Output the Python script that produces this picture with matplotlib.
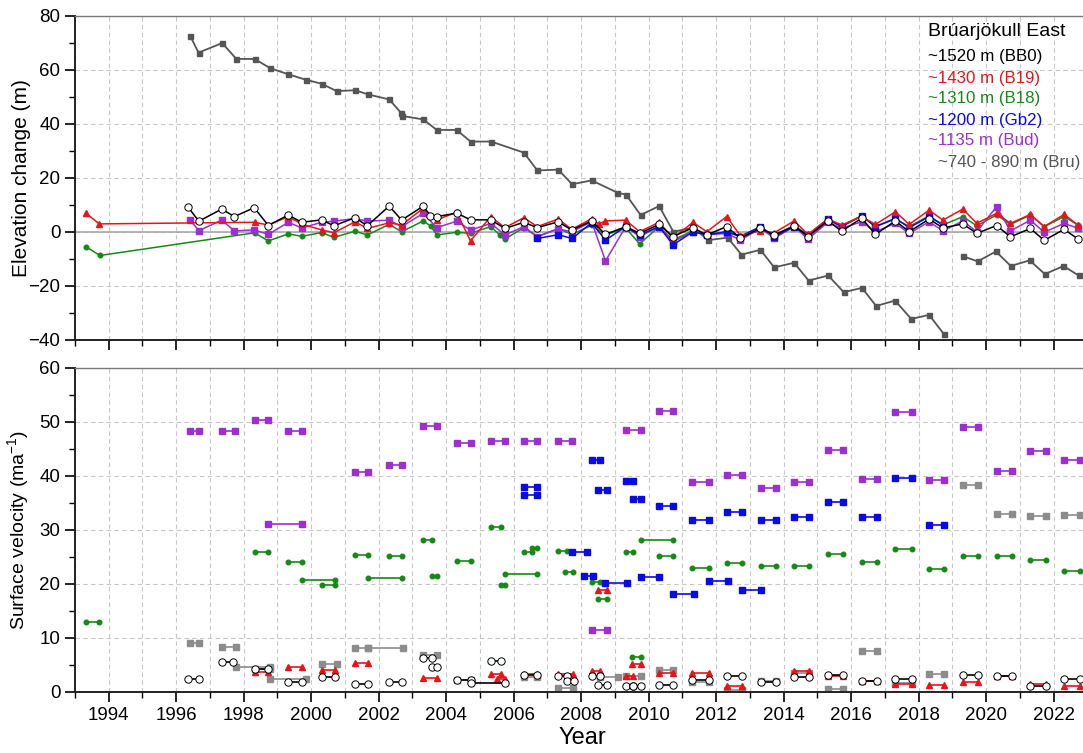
import numpy as np
import matplotlib
matplotlib.use("Agg")
import matplotlib.pyplot as plt
from matplotlib.ticker import MultipleLocator

plt.rcParams['font.family'] = ['Liberation Sans', 'DejaVu Sans']
plt.rcParams['mathtext.default'] = 'regular'

nan = np.nan

# ---------------- top panel: elevation change (m) ----------------
bb0_t = [1996.34, 1996.67, 1997.35, 1997.72, 1998.31, 1998.73, 1999.32, 1999.72, 2000.31, 2000.67,
         2001.30, 2001.66, 2002.31, 2002.68, 2003.32, 2003.53, 2003.72, 2004.31, 2004.72, 2005.32,
         2005.74, 2006.30, 2006.70, 2007.32, 2007.72, 2008.31, 2008.72, 2009.32, 2009.73, 2010.31,
         2010.72, 2011.31, 2011.72, 2012.31, 2012.72, 2013.31, 2013.72, 2014.31, 2014.72, 2015.31,
         2015.72, 2016.31, 2016.72, 2017.31, 2017.72, 2018.31, 2018.72, 2019.31, 2019.72, 2020.31,
         2020.72, 2021.31, 2021.72, 2022.31, 2022.72]
bb0_v = [9.4, 4.0, 8.5, 5.7, 9.0, 2.4, 6.3, 3.6, 4.5, 2.3,
         5.3, 2.3, 9.6, 4.4, 9.6, 6.0, 5.7, 7.0, 4.5, 4.5,
         1.3, 3.6, 1.6, 3.8, 0.7, 4.1, -0.9, 2.0, -0.5, 2.8,
         -1.7, 1.6, -1.1, 2.0, -2.3, 1.4, -1.1, 2.3, -1.7, 4.1,
         0.3, 5.1, -0.9, 4.1, 0.1, 4.8, 1.5, 3.0, -0.5, 2.4,
         -1.8, 1.3, -3.1, 1.0, -2.6]

b19_t = [1993.33, 1993.72, 1998.32, 1998.72, 1999.32, 1999.72, 2000.31, 2000.67, 2001.30, 2001.66,
         2002.31, 2002.68, 2003.32, 2003.72, 2004.31, 2004.72, 2005.32, 2005.74, 2006.30, 2006.70,
         2007.32, 2007.72, 2008.31, 2008.52, 2008.72, 2009.32, 2009.73, 2010.31, 2010.72, 2011.31,
         2011.72, 2012.31, 2012.72, 2013.31, 2013.72, 2014.31, 2014.72, 2015.31, 2015.72, 2016.31,
         2016.72, 2017.31, 2017.72, 2018.31, 2018.72, 2019.31, 2019.72, 2020.31, 2020.72, 2021.31,
         2021.72, 2022.31, 2022.72]
b19_v = [6.9, 3.0, 3.6, 2.6, 5.7, 2.9, 0.8, -0.3, 3.8, 1.3,
         3.4, 2.6, 8.8, 4.5, 7.3, -3.3, 5.7, 1.6, 5.3, 2.0,
         4.8, 1.0, 4.9, 3.0, 4.1, 4.4, 0.1, 3.6, -2.3, 3.6,
         0.1, 5.7, -1.4, 0.5, -0.3, 4.1, -0.9, 4.9, 2.6, 5.7,
         2.8, 7.5, 2.8, 8.1, 4.4, 8.5, 3.2, 6.9, 3.2, 6.5,
         2.0, 6.5, 2.6]

b18_t = [1993.33, 1993.74, 1998.32, 1998.73, 1999.32, 1999.72, 2000.31, 2000.67, 2001.30, 2001.66,
         2002.31, 2002.68, 2003.32, 2003.54, 2003.72, 2004.31, 2004.72, 2005.32, 2005.59, 2005.74,
         2006.30, 2006.70, 2007.32, 2007.72, 2008.31, 2008.72, 2009.32, 2009.73, 2010.31, 2010.72,
         2011.31, 2011.72, 2012.31, 2012.72, 2013.31, 2013.72, 2014.31, 2014.72, 2015.31, 2015.72,
         2016.31, 2016.72, 2017.31, 2017.72, 2018.31, 2018.72, 2019.31, 2019.72, 2020.31, 2020.72,
         2021.31, 2021.72, 2022.31, 2022.72]
b18_v = [-5.5, -8.7, -0.3, -3.3, -0.7, -1.6, -0.2, -2.0, 0.3, -1.1,
         2.8, 0.1, 4.1, 2.2, -1.1, -0.1, -0.5, 2.0, -1.1, -2.6,
         1.6, -1.7, 1.3, -0.9, 2.5, -1.1, 1.5, -4.4, 2.0, -3.0,
         0.5, -0.8, 0.0, -1.5, 1.8, -1.5, 2.3, -1.0, 4.3, 2.3,
         6.0, 2.0, 4.8, 2.0, 6.0, 2.6, 5.7, 2.3, 6.3, 2.8,
         6.3, 2.0, 5.7, 2.6]

gb2_t = [2006.70, 2007.32, 2007.73, 2008.31, 2008.72, 2009.32, 2009.73, 2010.31, 2010.72, 2011.31,
         2011.72, 2012.31, 2012.72, 2013.31, 2013.72, 2014.31, 2014.72, 2015.31, 2015.72, 2016.31,
         2016.72, 2017.31, 2017.72, 2018.31, 2018.72]
gb2_v = [-2.4, -1.0, -2.4, 3.4, -3.0, 2.0, -1.1, 2.0, -4.8, 0.1,
         -1.1, 0.1, -1.7, 2.0, -1.7, 2.0, -1.1, 4.7, 2.0, 6.0,
         2.0, 5.1, 1.6, 5.7, 2.6]

bud_t = [1996.41, 1996.67, 1997.35, 1997.72, 1998.31, 1998.73, 1999.32, 1999.72, 2000.31, 2000.67,
         2001.30, 2001.66, 2002.31, 2002.68, 2003.32, 2003.72, 2004.31, 2004.72, 2005.32, 2005.74,
         2006.30, 2006.70, 2007.32, 2007.72, 2008.31, 2008.72, 2009.32, 2009.73, 2010.31, 2010.72,
         2011.31, 2011.72, 2012.31, 2012.72, 2013.31, 2013.72, 2014.31, 2014.72, 2015.31, 2015.72,
         2016.31, 2016.72, 2017.31, 2017.72, 2018.31, 2018.72, 2019.31, 2019.72, 2020.31, 2020.72,
         2021.31, 2021.72, 2022.31, 2022.72]
bud_v = [4.4, 0.5, 4.4, 0.4, 0.8, -0.9, 3.6, 1.5, 3.6, 4.0,
         5.0, 4.0, 4.4, 2.0, 6.9, 1.6, 4.0, 0.7, 3.2, -1.1,
         2.0, -1.7, 1.1, 0.1, 3.8, -10.7, 2.0, -1.7, 2.0, -3.6,
         0.1, -1.1, -0.5, -3.0, 1.4, -2.3, 2.0, -2.6, 3.6, 1.4,
         3.8, 0.1, 3.2, -0.5, 3.8, 0.4, 4.1, 0.1, 9.4, 0.4,
         4.4, -0.1, 3.2, 1.4]

bru_t = [1996.42, 1996.66, 1997.36, 1997.78, 1998.32, 1998.78, 1999.32, 1999.84, 2000.31, 2000.75,
         2001.31, 2001.67, 2002.31, 2002.67, 2002.69, 2003.32, 2003.72, 2004.31, 2004.72, 2005.33,
         2006.30, 2006.70, 2007.32, 2007.73, 2008.31, 2009.07, 2009.33, 2009.76, 2010.31, 2010.73,
         2011.31, 2011.77, 2012.34, 2012.75, 2013.31, 2013.72, 2014.31, 2014.74, 2015.32, 2015.78,
         2016.32, 2016.74, 2017.30, 2017.78, 2018.31, 2018.74, 2019.0, 2019.30, 2019.75, 2020.29,
         2020.73, 2021.29, 2021.74, 2022.29, 2022.74]
bru_v = [72.5, 66.4, 70.0, 64.1, 64.1, 60.7, 58.4, 56.4, 54.9, 52.2,
         52.5, 51.0, 49.1, 44.0, 43.0, 41.7, 37.8, 37.8, 33.5, 33.5,
         29.4, 22.8, 23.1, 17.7, 19.1, 14.6, 13.8, 6.3, 9.6, 0.1,
         1.6, -3.0, -2.1, -8.4, -6.6, -13.1, -11.4, -18.0, -16.1, -22.3,
         -20.7, -27.4, -25.4, -32.2, -30.7, -37.7, nan, -8.9, -10.9, -7.2,
         -12.6, -10.5, -15.6, -12.6, -16.1]

# ---------------- bottom panel: surface velocity (m/a), segments (start, end, value) ----------------
bb0_vel = [(1996.34, 1996.67, 2.4), (1997.36, 1997.68, 5.5), (1998.32, 1998.73, 4.2), (1999.32, 1999.72, 1.8),
           (2000.31, 2000.70, 2.8), (2001.31, 2001.67, 1.5), (2002.31, 2002.68, 1.85), (2003.32, 2003.57, 6.3),
           (2003.57, 2003.74, 4.7), (2004.31, 2004.72, 2.3), (2004.72, 2005.74, 1.7), (2005.33, 2005.61, 5.8),
           (2006.30, 2006.70, 3.1), (2007.32, 2007.57, 2.9), (2007.57, 2007.79, 2.0), (2008.31, 2008.56, 3.0),
           (2008.51, 2008.75, 1.35), (2009.33, 2009.54, 1.2), (2009.54, 2009.76, 1.2), (2010.31, 2010.73, 1.35),
           (2011.27, 2011.80, 2.3), (2012.31, 2012.76, 3.0), (2013.32, 2013.77, 1.9), (2014.31, 2014.74, 2.7),
           (2015.31, 2015.77, 3.1), (2016.31, 2016.77, 2.0), (2017.31, 2017.79, 2.4), (2019.31, 2019.75, 3.1),
           (2020.31, 2020.76, 2.9), (2021.31, 2021.78, 1.2), (2022.31, 2022.78, 2.4)]
b19_vel = [(1998.32, 1998.73, 3.7), (1999.32, 1999.72, 4.7), (2000.31, 2000.70, 4.1), (2001.31, 2001.67, 5.4),
           (2003.32, 2003.74, 2.6), (2005.33, 2005.61, 3.4), (2005.50, 2005.74, 2.5), (2006.30, 2006.70, 3.3),
           (2007.32, 2007.77, 3.3), (2008.31, 2008.56, 3.9), (2008.51, 2008.75, 18.8), (2009.33, 2009.54, 3.0),
           (2009.50, 2009.76, 5.2), (2010.31, 2010.73, 3.6), (2011.27, 2011.80, 3.6), (2012.31, 2012.76, 1.2),
           (2014.31, 2014.74, 3.9), (2015.31, 2015.77, 2.9), (2016.31, 2016.77, 2.0), (2017.31, 2017.79, 1.4),
           (2018.31, 2018.76, 1.3), (2019.31, 2019.75, 1.8), (2020.31, 2020.76, 3.0), (2021.31, 2021.78, 1.5),
           (2022.31, 2022.78, 1.1)]
b18_vel = [(1993.32, 1993.72, 13.0), (1998.32, 1998.73, 26.0), (1999.32, 1999.72, 24.0), (1999.72, 2000.70, 20.8),
           (2000.31, 2000.70, 19.9), (2001.31, 2001.67, 25.4), (2001.67, 2002.68, 21.1), (2002.31, 2002.68, 25.2),
           (2003.32, 2003.57, 28.1), (2003.57, 2003.74, 21.5), (2004.31, 2004.72, 24.3), (2005.33, 2005.61, 30.6),
           (2005.61, 2005.74, 19.9), (2005.74, 2006.70, 21.8), (2006.30, 2006.53, 26.0), (2006.53, 2006.70, 26.7),
           (2007.32, 2007.57, 26.1), (2007.52, 2007.77, 22.3), (2008.31, 2008.56, 20.3), (2008.51, 2008.75, 17.3),
           (2009.33, 2009.54, 26.0), (2009.50, 2009.76, 6.4), (2009.76, 2010.73, 28.1), (2010.31, 2010.73, 25.2),
           (2011.27, 2011.80, 23.0), (2012.31, 2012.76, 23.8), (2013.32, 2013.77, 23.4), (2014.31, 2014.74, 23.3),
           (2015.31, 2015.77, 25.6), (2016.31, 2016.77, 24.0), (2017.31, 2017.79, 26.4), (2018.31, 2018.76, 22.8),
           (2019.31, 2019.75, 25.1), (2020.31, 2020.76, 25.1), (2021.31, 2021.78, 24.5), (2022.31, 2022.78, 22.5)]
gb2_vel = [(2006.30, 2006.70, 37.9), (2006.30, 2006.70, 36.4), (2007.73, 2008.16, 25.9), (2008.08, 2008.36, 21.4),
           (2008.31, 2008.56, 42.9), (2008.51, 2008.75, 37.5), (2008.70, 2009.35, 20.1), (2009.33, 2009.54, 39.0),
           (2009.54, 2009.76, 35.7), (2009.76, 2010.31, 21.3), (2010.31, 2010.73, 34.4), (2010.73, 2011.34, 18.2),
           (2011.27, 2011.80, 31.8), (2011.80, 2012.36, 20.6), (2012.31, 2012.76, 33.4), (2012.76, 2013.32, 18.8),
           (2013.32, 2013.77, 31.8), (2014.31, 2014.74, 32.5), (2015.31, 2015.77, 35.2), (2016.31, 2016.77, 32.5),
           (2017.31, 2017.79, 39.7), (2018.31, 2018.76, 30.9)]
bud_vel = [(1996.42, 1996.67, 48.4), (1997.36, 1997.73, 48.4), (1998.32, 1998.73, 50.4), (1998.73, 1999.72, 31.2),
           (1999.32, 1999.72, 48.4), (2001.31, 2001.67, 40.7), (2002.31, 2002.68, 42.1), (2003.32, 2003.74, 49.2),
           (2004.31, 2004.72, 46.1), (2005.33, 2005.74, 46.4), (2006.30, 2006.70, 46.5), (2007.32, 2007.73, 46.5),
           (2008.31, 2008.75, 11.5), (2009.33, 2009.76, 48.6), (2010.31, 2010.73, 52.1), (2011.27, 2011.80, 38.9),
           (2012.31, 2012.76, 40.1), (2013.32, 2013.77, 37.7), (2014.31, 2014.74, 38.8), (2015.31, 2015.77, 44.9),
           (2016.31, 2016.77, 39.4), (2017.31, 2017.79, 51.9), (2018.31, 2018.76, 39.2), (2019.31, 2019.75, 49.1),
           (2020.31, 2020.76, 41.0), (2021.31, 2021.78, 44.6), (2022.31, 2022.78, 43.0)]
bru_vel = [(1996.42, 1996.67, 9.1), (1997.36, 1997.78, 8.4), (1997.78, 1998.78, 4.6), (1998.32, 1998.78, 4.3),
           (1998.78, 1999.84, 2.4), (2000.31, 2000.75, 5.1), (2001.31, 2001.67, 8.1), (2001.67, 2002.71, 8.1),
           (2003.32, 2003.74, 6.8), (2004.31, 2004.72, 2.3), (2006.30, 2006.70, 2.7), (2007.32, 2007.77, 0.7),
           (2008.56, 2009.10, 2.7), (2009.33, 2009.76, 3.0), (2010.31, 2010.73, 4.1), (2011.27, 2011.80, 1.8),
           (2012.31, 2012.76, 0.4), (2013.32, 2013.77, 2.0), (2014.31, 2014.74, 3.6), (2015.31, 2015.77, 0.5),
           (2016.31, 2016.77, 7.6), (2017.31, 2017.79, 1.6), (2018.31, 2018.76, 3.3), (2019.31, 2019.75, 38.4),
           (2020.31, 2020.76, 33.0), (2021.31, 2021.78, 32.6), (2022.31, 2022.78, 32.8)]

legend_labels = ["~1520 m (BB0)", "~1430 m (B19)", "~1310 m (B18)", "~1200 m (Gb2)", "~1135 m (Bud)",
                 "~740 - 890 m (Bru)"]

# styles
st = {
    'bb0': dict(color='black', marker='o', ms=5.3, mfc='white', mec='black', mew=0.7),
    'b19': dict(color='#e8141c', marker='^', ms=4.5, mec='#e8141c'),
    'b18': dict(color='#168a16', marker='o', ms=3.3, mec='#168a16'),
    'gb2': dict(color='#0a0ae6', marker='s', ms=4.0, mec='#0a0ae6'),
    'bud': dict(color='#9b2fd2', marker='s', ms=4.0, mec='#9b2fd2'),
    'bru': dict(color='#555555', marker='s', ms=3.6, mec='#555555'),
    'bru2': dict(color='#8c8c8c', marker='s', ms=3.8, mec='#8c8c8c'),
}
legend_colors = ['black', '#e8141c', '#168a16', '#0a0ae6', '#9b2fd2', '#555555']

fig = plt.figure(figsize=(10.83, 7.53), dpi=100)
W, H = 1083, 753
x0, x1 = 75, 1083
ax1 = fig.add_axes([x0 / W, 1 - 340 / H, (x1 - x0) / W, (340 - 16) / H])
ax2 = fig.add_axes([x0 / W, 1 - 692 / H, (x1 - x0) / W, (692 - 368) / H])

xlim = (1993, 2022.87)


def style_axis(ax, ymaj, ymin, ylim):
    ax.set_xlim(*xlim)
    ax.set_ylim(*ylim)
    ax.xaxis.set_major_locator(MultipleLocator(2))
    ax.xaxis.set_minor_locator(MultipleLocator(1))
    ax.yaxis.set_major_locator(MultipleLocator(ymaj))
    ax.yaxis.set_minor_locator(MultipleLocator(ymin))
    ax.grid(True, which='both', axis='x', color='#c8c8c8', ls=(0, (4, 3)), lw=0.8)
    ax.grid(True, which='major', axis='y', color='#c8c8c8', ls=(0, (4, 3)), lw=0.8)
    ax.set_axisbelow(True)
    ax.tick_params(which='major', direction='out', length=7, width=1.2, labelsize=13.5, colors='black',
                   top=False, right=False)
    ax.tick_params(which='minor', direction='out', length=4, width=1.0, top=False, right=False)
    for s in ('left', 'bottom'):
        ax.spines[s].set_linewidth(1.4)
        ax.spines[s].set_color('#222222')
    ax.spines['top'].set_color('#777777')
    ax.spines['top'].set_linewidth(1.0)
    ax.spines['right'].set_visible(False)


style_axis(ax1, 20, 10, (-40, 80))
style_axis(ax2, 10, 5, (0, 60))
ax1.tick_params(labelbottom=False)

ax1.axhline(0, color='#a8a8a8', lw=1.2, zorder=1)

lw = 1.1
ax1.plot(bru_t, bru_v, lw=1.3, **st['bru'])
ax1.plot(b18_t, b18_v, lw=lw, **st['b18'])
ax1.plot(bud_t, bud_v, lw=lw, **st['bud'])
ax1.plot(gb2_t, gb2_v, lw=lw, **st['gb2'])
ax1.plot(b19_t, b19_v, lw=lw, **st['b19'])
ax1.plot(bb0_t, bb0_v, lw=lw, **st['bb0'])

for segs, key in [(bru_vel, 'bru2'), (b18_vel, 'b18'), (gb2_vel, 'gb2'), (bud_vel, 'bud'),
                  (b19_vel, 'b19'), (bb0_vel, 'bb0')]:
    for s, e, v in segs:
        ax2.plot([s, e], [v, v], lw=1.2, **st[key])

ax1.set_ylabel('Elevation change (m)', fontsize=15)
ax1.yaxis.set_label_coords(-0.044, 0.5)
ax2.set_ylabel('Surface velocity (ma$^{-1}$)', fontsize=14)
ax2.yaxis.set_label_coords(-0.044, 0.5)
ax2.set_xlabel('Year', fontsize=17)
ax2.xaxis.set_label_coords(0.503, -0.108)

# text legend
fig.text(928 / W, 1 - 31 / H, 'Brúarjökull East', fontsize=14, va='center', ha='left')
for i, (lab, c) in enumerate(zip(legend_labels, legend_colors)):
    xx = 928 if i < 5 else 938
    fig.text(xx / W, 1 - (57 + 21 * i) / H, lab, fontsize=12.2, color=c, va='center', ha='left')

fig.savefig('out.png', dpi=100)
